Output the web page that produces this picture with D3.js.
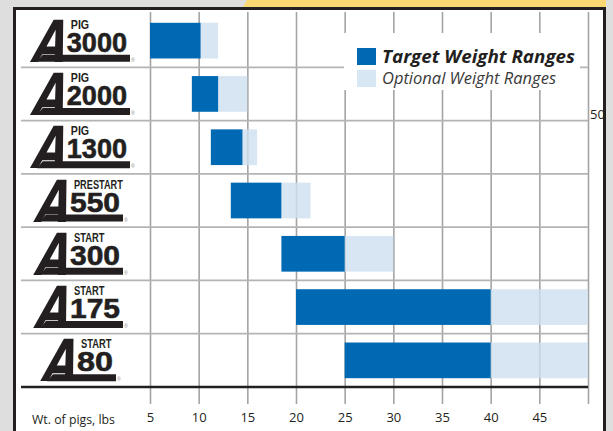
<!DOCTYPE html>
<html>
<head>
<meta charset="utf-8">
<script src="https://cdn.jsdelivr.net/npm/d3@7"></script>
<style>
  body { margin: 0; background: #dedede; }
  svg { display: block; }
</style>
</head>
<body>
<svg width="613" height="431"></svg>
<script>
// feed products, from heaviest-pig product at the top
const categories = ["3000", "2000", "1300", "550", "300", "175", "80"];
const prefixes = ["PIG", "PIG", "PIG", "PRESTART", "START", "START", "START"];
// weight ranges, lbs
const targetStart = [5, 9.3, 11.25, 13.3, 18.5, 20, 25];
const targetEnd = [10.2, 12, 14.5, 18.5, 25, 40, 40];
const optionalEnd = [12, 15, 16, 21.5, 30, 50, 50];
const tickLabels = [5, 10, 15, 20, 25, 30, 35, 40, 45];
const legendLabels = ["Target Weight Ranges", "Optional Weight Ranges"];

document.addEventListener("DOMContentLoaded", function(){
    let svg = d3.select("svg");
    let width = +svg.attr("width");
    let height = +svg.attr("height");
    let blue = "#0069b4";
    let font = "'Open Sans', 'Noto Sans', sans-serif";

    let rows = categories.map((c, i) => ({
        name: c, prefix: prefixes[i],
        t0: targetStart[i], t1: targetEnd[i], o1: optionalEnd[i]
    }));

    let x = d3.scaleLinear().domain([5, 50]).range([150, 588]);
    let row = d3.scaleBand().domain(categories).range([14, 387]);
    let bar = d3.scaleBand().domain(categories).range([14, 387])
        .paddingInner(0.33).paddingOuter(0.165);

    // page background + yellow tab + white panel
    svg.append("rect").attr("width", width).attr("height", height).style("fill", "#dedede");
    svg.append("polygon")
        .attr("points", "243,7 247,0 606,0 606,7")
        .style("fill", "#fbd873");
    svg.append("rect")
        .attr("x", 16).attr("y", 9).attr("width", 587).attr("height", height)
        .style("fill", "#fff");

    // vertical gridlines (also make the tick marks below the axis)
    svg.append("g")
        .attr("transform", "translate(0,404)")
        .call(d3.axisBottom(x).tickValues(d3.range(5, 51, 5)).tickSize(-392).tickFormat(""))
        .call(g => g.select(".domain").remove())
        .call(g => g.selectAll(".tick line").style("stroke", "#a4a4a4").style("stroke-width", 1.6));

    // row separators
    svg.append("g").selectAll("line")
        .data(categories.slice(1))
        .enter().append("line")
        .attr("x1", 21).attr("x2", 588)
        .attr("y1", d => row(d)).attr("y2", d => row(d))
        .style("stroke", "#b4b4b4").style("stroke-width", 1.7);

    // optional ranges (light) then target ranges (dark)
    svg.append("g").selectAll("rect")
        .data(rows)
        .enter().append("rect")
        .attr("x", d => x(d.t1))
        .attr("y", d => bar(d.name))
        .attr("width", d => x(d.o1) - x(d.t1))
        .attr("height", bar.bandwidth())
        .style("fill", "#cde0ef").style("opacity", 0.8);

    svg.append("g").selectAll("rect")
        .data(rows)
        .enter().append("rect")
        .attr("x", d => x(d.t0))
        .attr("y", d => bar(d.name))
        .attr("width", d => x(d.t1) - x(d.t0))
        .attr("height", bar.bandwidth())
        .style("fill", blue);

    // axis line
    svg.append("line")
        .attr("x1", 21).attr("x2", 588).attr("y1", 387).attr("y2", 387)
        .style("stroke", "#231f20").style("stroke-width", 2.5);

    // tick labels
    svg.append("g")
        .attr("transform", "translate(0,413)")
        .call(d3.axisBottom(x).tickValues(tickLabels).tickSize(0).tickPadding(0))
        .call(g => g.select(".domain").remove())
        .call(g => g.selectAll("text")
            .style("font-family", font).style("font-size", "13px").style("fill", "#231f20"));

    svg.append("text")
        .attr("x", 32).attr("y", 424)
        .attr("textLength", 83).attr("lengthAdjust", "spacingAndGlyphs")
        .style("font-family", font).style("font-size", "13px").style("fill", "#231f20")
        .text("Wt. of pigs, lbs");

    // stray "50" label at the right
    svg.append("text")
        .attr("x", 590).attr("y", 119)
        .style("font-family", font).style("font-size", "13px").style("fill", "#231f20")
        .text("50");

    // legend
    let leg = svg.append("g");
    leg.append("rect")
        .attr("x", 344).attr("y", 33).attr("width", 236).attr("height", 57)
        .style("fill", "#fff");
    leg.selectAll("rect.sw")
        .data(legendLabels)
        .enter().append("rect")
        .attr("class", "sw")
        .attr("x", 357).attr("y", (d, i) => 48 + i * 22)
        .attr("width", 19).attr("height", 17)
        .style("fill", (d, i) => i == 0 ? blue : "#d7e7f3");
    leg.selectAll("text")
        .data(legendLabels)
        .enter().append("text")
        .attr("x", 382).attr("y", (d, i) => 63 + i * 21)
        .attr("textLength", (d, i) => i == 0 ? 193 : 174)
        .attr("lengthAdjust", "spacingAndGlyphs")
        .style("font-family", font)
        .style("font-style", "italic")
        .style("font-weight", (d, i) => i == 0 ? 700 : 400)
        .style("font-size", (d, i) => i == 0 ? "18px" : "16px")
        .style("fill", (d, i) => i == 0 ? "#231f20" : "#3a3a3a")
        .text(d => d);

    // product logos
    svg.append("g").selectAll("g")
        .data(rows)
        .enter().append("g")
        .each(function(d) {
            let g = d3.select(this);
            let cy = row(d.name) + row.bandwidth() / 2;
            let n = d.name.length;
            let dw = n >= 4 ? 15.3 : n == 3 ? 17 : 18.5;
            let dEnd = 100 + 7 * n;
            let dStart = dEnd - n * dw;
            let uStart = dStart - 30, uEnd = dEnd + 2;

            g.append("polygon")
                .attr("points", [[uStart + 6, cy + 14], [uEnd, cy + 14], [uEnd, cy + 21], [uStart, cy + 21]].join(" "))
                .style("fill", "#231f20");
            g.append("text")
                .attr("transform", `translate(${dStart - 37},${cy + 21}) skewX(-16) scale(0.74,1)`)
                .style("font-family", "'DejaVu Sans', sans-serif")
                .style("font-weight", 700)
                .style("font-size", "58px").style("fill", "#231f20")
                .text("A");
            g.append("text")
                .attr("x", dStart).attr("y", cy + 11)
                .attr("textLength", n * dw - 1).attr("lengthAdjust", "spacingAndGlyphs")
                .style("font-family", "'Liberation Sans Narrow', 'Liberation Sans', sans-serif")
                .style("font-weight", 700).style("font-size", "28px").style("fill", "#231f20")
                .style("stroke", "#231f20").style("stroke-width", 0.6)
                .text(d.name);
            g.append("text")
                .attr("x", dStart + 4).attr("y", cy - 12)
                .attr("textLength", d.prefix.length * 6.1).attr("lengthAdjust", "spacingAndGlyphs")
                .style("font-family", "'Liberation Sans Narrow', 'Liberation Sans', sans-serif")
                .style("font-weight", 700).style("font-size", "12px").style("fill", "#231f20")
                .text(d.prefix);
            g.append("text")
                .attr("x", uEnd + 1).attr("y", cy + 21)
                .style("font-family", "'Liberation Sans', sans-serif")
                .style("font-size", "5px").style("fill", "#888")
                .text("\u00ae");
        });

    // black frame
    svg.append("rect").attr("x", 13).attr("y", 7).attr("width", 593).attr("height", 3).style("fill", "#231f20");
    svg.append("rect").attr("x", 13).attr("y", 7).attr("width", 3).attr("height", height).style("fill", "#231f20");
    svg.append("rect").attr("x", 603).attr("y", 7).attr("width", 3).attr("height", height).style("fill", "#231f20");
    svg.append("rect").attr("x", 606).attr("y", 0).attr("width", 7).attr("height", height).style("fill", "#dedede");
});
</script>
</body>
</html>
